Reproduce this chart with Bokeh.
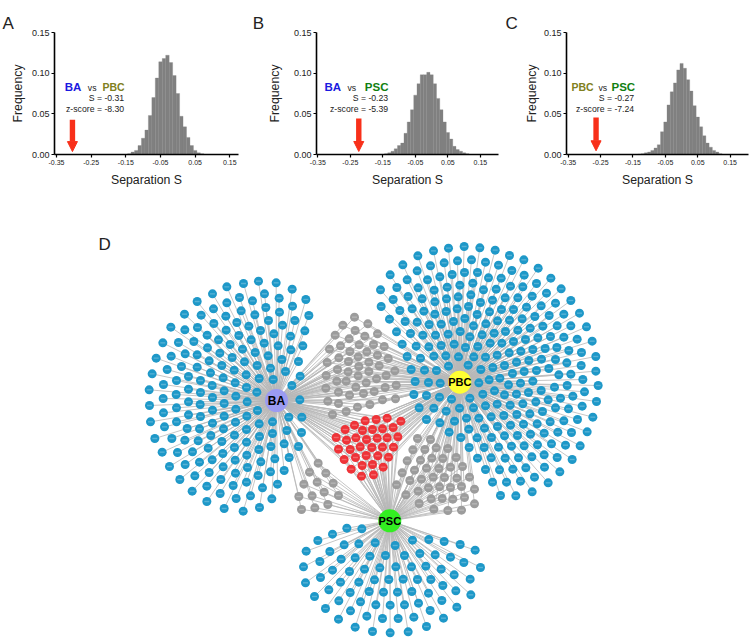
from bokeh.plotting import figure
from bokeh.layouts import column, row
from bokeh.models import Label, Range1d, FixedTicker, Arrow, NormalHead, Title
from bokeh.embed import file_html
from bokeh.resources import INLINE

# ---------- histogram data ----------
ab_centers = [-0.14,-0.13,-0.12,-0.11,-0.10,-0.09,-0.08,-0.07,-0.06,-0.05,-0.04,-0.03,-0.02,-0.01,0.0,0.01,0.02,0.03,0.04,0.05,0.06,0.07]
ab_freq = [.001,.003,.005,.011,.020,.030,.048,.070,.094,.114,.118,.122,.113,.097,.075,.047,.034,.021,.011,.005,.002,.001]
bc_centers = [-0.14,-0.13,-0.12,-0.11,-0.10,-0.09,-0.08,-0.07,-0.06,-0.05,-0.04,-0.03,-0.02,-0.01,0.0,0.01,0.02,0.03,0.04,0.05,0.06,0.07,0.08,0.09,0.10,0.11]
bc_freq = [.001,.002,.004,.007,.011,.014,.026,.040,.055,.073,.087,.098,.098,.101,.098,.087,.069,.055,.040,.027,.019,.010,.006,.004,.002,.001]
cc_centers = [-0.13,-0.12,-0.11,-0.10,-0.09,-0.08,-0.07,-0.06,-0.05,-0.04,-0.03,-0.02,-0.01,0.0,0.01,0.02,0.03,0.04,0.05,0.06,0.07,0.08,0.09,0.10,0.11,0.12]
cc_freq = [.0005,.001,.002,.003,.005,.008,.012,.028,.040,.061,.077,.088,.104,.112,.106,.092,.078,.060,.046,.034,.023,.014,.009,.005,.003,.001]
x_ticks = [-0.35,-0.25,-0.15,-0.05,0.05,0.15]
x_tick_labels = ["-0.35","-0.25","-0.15","-0.05","0.05","0.15"]
y_ticks = [0.0,0.05,0.10,0.15]
y_tick_labels = ["0.00","0.05","0.10","0.15"]
observed_s = [-0.304,-0.224,-0.264]

ba_crop = (130,270)
ba_nodes = [(384,32),(437,37),(339,39),(289,49),(485,56),(246,70),(402,70),(327,81),(446,83),(526,87),(366,91),(200,93),(289,97),
(486,107),(406,111),(249,115),(332,121),(447,125),(162,131),(212,134),(373,133),(535,135),(286,137),(414,150),(493,150),(319,156),(250,159),(456,164),(355,167),(121,170),(201,171),(163,178),(287,179),(390,180),(523,181),
(430,190),(230,194),(480,197),(325,195),(264,208),(362,208),(190,213),(97,217),(144,216),(401,218),(299,222),(517,226),(443,226),(231,232),(336,236),(481,238),
(374,246),(268,248),(164,250),(200,253),(122,257),(413,256),(305,261),(77,263),(236,271),(454,267),(342,274),(504,273),(274,285),(380,285),(153,288),(200,290),
(420,293),(110,297),(311,299),(465,303),(65,310),(240,307),(347,313),(509,317),(174,318),(278,322),(386,324),(428,327),(138,330),(210,330),(314,337),(99,342),(245,345),(484,345),
(348,351),(174,356),(56,358),(210,366),(379,365),(281,361),(137,372),(316,377),(246,381),(98,384),(508,388),(174,394),(350,394),(281,399),(209,402),(57,405),(138,412),(246,419),
(316,416),(381,420),(99,427),(174,433),(210,438),(349,437),(281,437),(475,440),(514,440),(138,454),(60,454),(426,454),(246,458),(315,455),(386,460),(102,469),(170,474),(207,475),(279,475),(348,477),
(469,480),(426,489),(513,486),(241,495),(312,494),(387,498),(73,504),(124,504),(163,509),(203,511),(348,515),(274,513),(461,520),(421,528),(504,528),(233,533),(312,531),(385,537),(95,545),(141,546),(186,544),
(277,549),(349,554),(433,565),(476,561),(245,568),(314,569),(391,574),(164,582),(207,575),(117,588),(278,589),(351,591),(236,606),(461,600),(420,604),(315,608),(383,615),(193,616),
(148,627),(271,627),(348,635),(229,647),(308,645),(441,641),(396,652),(185,662),(269,669),(360,676),(424,685),(317,684),(229,693),(281,714),(387,711),(338,722)]

pbc_crop = (370,235)
pbc_nodes = [(281,33),(234,38),(328,37),(189,46),(374,44),(417,60),(142,61),(460,73),(97,88),(221,82),(261,76),(303,73),(345,80),(384,89),(180,91),(503,98),
(424,105),(140,106),(282,111),(321,111),(245,117),(208,124),(461,119),(59,118),(541,128),(354,127),(392,128),(171,133),(110,133),
(498,144),(307,143),(268,149),(230,155),(420,152),(457,154),(79,156),(143,157),(572,160),(339,163),(191,164),(30,163),(377,161),
(528,173),(113,183),(301,178),(263,184),(228,190),(485,182),(68,192),(155,190),(404,187),(442,187),(601,195),(366,194),(193,199),(330,201),
(555,203),(512,211),(32,213),(294,213),(125,220),(260,220),(468,215),(88,225),(429,222),(393,222),(160,227),(227,228),(357,229),(627,233),(193,236),(320,237),(580,236),(536,240),
(57,251),(455,250),(283,249),(417,254),(493,243),(381,256),(104,258),(249,258),(140,260),(212,266),(346,265),(648,274),(176,267),(560,271),(601,271),(517,272),(309,271),(479,278),
(442,284),(405,288),(78,289),(120,294),(269,288),(233,296),(371,293),(335,298),(195,299),(157,299),(298,304),(580,305),(540,303),(502,307),(665,317),(465,312),(620,311),
(429,318),(251,326),(95,326),(394,323),(212,330),(359,323),(137,332),(175,334),(322,333),(285,336),(559,336),(524,339),(487,342),(451,347),
(633,351),(595,345),(416,352),(380,359),(345,365),(110,363),(310,364),(150,368),(190,362),(226,361),(264,364),(676,363),(513,371),(475,375),(555,372),
(438,380),(589,382),(632,390),(402,390),(367,396),(234,392),(293,389),(122,402),(162,404),(198,405),(331,402),(535,399),(498,405),(676,407),(461,408),
(426,414),(565,418),(601,416),(637,432),(388,428),(356,433),(325,442),(134,438),(174,441),(209,443),(487,437),(450,443),(414,448),
(590,450),(683,450),(552,455),(512,465),(642,469),(372,466),(130,477),(168,480),(207,485),(337,476),(402,478),(474,471),(438,476),(607,482),
(570,488),(243,491),(298,488),(533,493),(496,499),(457,505),(678,498),(380,506),(419,509),(345,511),(146,517),(190,518),(267,518),(309,517),(635,512),(594,520),(555,517),(516,528),(227,527),
(478,535),(439,537),(400,540),(362,544),(325,548),(288,548),(168,552),(252,557),(208,562),(667,545),(621,552),(580,556),(539,559),(500,565),(459,566),(420,569),(381,573),
(342,578),(295,581),(236,590),(603,591),(650,589),(562,590),(521,593),(480,596),(441,600),(402,601),(363,606),(320,607),(271,606),
(543,625),(501,628),(461,631),(423,632),(384,635),(341,636),(585,629),(629,631),(296,636),(521,658),(484,664),(444,667),(404,668),(362,667),(605,672),(560,666),(321,668),
(522,695),(466,697),(427,701),(387,703),(345,702),(568,709),(492,725),(533,742),(450,737),(408,740),(366,740),(485,769),(436,781),(390,780)]

psc_crop = (290,505)
psc_nodes = [(169,68),(214,70),(126,86),(366,104),(415,102),(461,108),(509,117),(82,105),(254,112),(161,118),(205,115),(314,120),(554,134),(47,137),(118,138),(388,144),(434,148),(88,168),(152,161),(194,157),(238,152),(285,150),(342,150),(480,155),(520,171),
(39,184),(126,194),(177,198),(222,191),(268,187),(316,184),(363,184),(406,182),(452,191),(570,186),(90,216),(491,208),(45,232),(150,230),(205,230),(252,223),(295,222),(338,221),(381,222),(421,222),(539,221),(457,240),
(115,253),(179,261),(236,258),(279,260),(321,260),(364,258),(414,263),(496,256),(72,273),(541,268),(454,285),(145,286),(210,289),(256,298),(299,299),(342,298),(384,293),(499,305),(105,309),(180,316),(419,315),
(229,332),(276,339),(323,339),(370,335),(459,338),(144,341),(194,365),(408,363),(246,378),(299,382),(353,379)]

shared_crop = (280,310)
ba_pbc_nodes = [(222,20),(187,44),(262,40),(224,60),(164,74),(291,70),(206,85),(253,77),(180,106),(236,103),(279,102),(147,116),(311,108),(208,123),(259,124),(175,142),(233,139),(291,134),(323,144),(140,156),(204,153),(265,155),(296,166),(171,177),(235,168),(343,181),(203,184),(265,183),(137,195),(317,195),(233,196),(169,212),(288,205),(257,217),(197,212),(226,230),(347,224),(136,233),(314,231),(174,245),(207,254),(281,243),(249,249),(142,272),(306,268),(345,265),(174,279),(268,282),(231,290),(197,303),(156,312)]
all_three_nodes = [(254,331),(287,327),(320,323),(361,332),(222,344),(194,357),(246,360),(276,357),(306,355),(338,351),(167,381),(198,389),(226,382),(258,387),(290,383),(320,382),(352,379),(174,416),(209,417),(239,409),(274,411),(306,410),(339,410),(191,447),(225,441),(257,435),(292,436),(324,440),(212,476),(245,465),(276,462),(308,470),(243,497),(279,493)]
ba_psc_nodes = [(113,458),(87,485),(136,488),(70,521),(110,515),(158,518),(131,545),(55,558),(95,556),(174,555),(142,582),(103,592),(63,597)]
pbc_psc_nodes = [(411,384),(450,387),(397,418),(433,417),(467,412),(502,414),(380,451),(420,449),(454,443),(487,444),(527,441),(365,487),(402,479),(438,473),(475,474),(510,470),(546,468),(388,510),(423,506),(458,500),(492,501),(529,503),(567,500),(348,523),(413,542),(444,532),(477,529),(510,531),(543,528),(582,536),(376,553),(452,565),(485,564),(517,566),(552,561),(416,579),(582,580),(460,596),(502,600),(543,599)]
hub_names = ["BA","PBC","PSC"]
hub_x = [276,459.3,389.3]
hub_y = [400,381.7,520.3]
hub_colors = ["#9b9bf2","#ffff33","#33ee22"]

FONT = "Liberation Sans"
BLUE, OLIVE, GREEN = "#1a1ae0", "#808020", "#107f10"

def panel(centers, freq, left, right, top, origin, letter, letter_x, names, s_text, z_text, s_right, vs_x, xlab_center, ylab_standoff, arrow_x, arrow_top, arrow_tip, fig_left):
    W, H, bottom = 250, 200, 154
    x0, sc = origin
    fx = lambda a: -0.35 + (a - x0) / sc
    fy = lambda a: (154 - a) * 0.15 / (154 - top)
    p = figure(width=W, height=H, output_backend="svg", toolbar_location=None,
               x_range=Range1d(fx(left), fx(right)), y_range=Range1d(0, 0.15),
               min_border_left=int(left - fig_left), min_border_right=int(fig_left + W - right),
               min_border_top=int(top), min_border_bottom=H - bottom, outline_line_color=None)
    p.grid.visible = False
    p.vbar(x=centers, top=freq, width=0.01, fill_color="#808080", line_color="#808080", line_width=0.3)
    for ax, ticks, labels, size in ((p.xaxis[0], x_ticks, x_tick_labels, "7px"), (p.yaxis[0], y_ticks, y_tick_labels, "9px")):
        ax.ticker = FixedTicker(ticks=ticks)
        ax.major_label_overrides = dict(zip(ticks, labels))
        ax.major_label_text_font = FONT
        ax.major_label_text_font_size = size
        ax.major_label_text_color = "#222222"
        ax.axis_line_width = 1.6
        ax.axis_line_color = "#000000"
        ax.major_tick_line_width = 1.2
        ax.major_tick_out = 3
        ax.major_tick_in = 0
        ax.minor_tick_line_color = None
        ax.major_label_standoff = 2
    p.yaxis[0].axis_label = "Frequency"
    p.yaxis[0].axis_label_text_font = FONT
    p.yaxis[0].axis_label_text_font_size = "12.3px"
    p.yaxis[0].axis_label_text_font_style = "normal"
    p.yaxis[0].axis_label_text_color = "#222222"
    p.yaxis[0].axis_label_standoff = ylab_standoff
    p.add_layout(Title(text="Separation S", text_font=FONT, text_font_size="12.3px", text_font_style="normal",
                       text_color="#222222", align="center", offset=xlab_center - (left + right) / 2, standoff=6), "below")
    p.add_layout(Title(text=letter, text_font=FONT, text_font_size="17px", text_font_style="normal",
                       text_color="#222222", align="left", offset=letter_x - left, standoff=0), "above")
    def lab(a, b, text, size, color="#222222", style="normal", align="left"):
        p.add_layout(Label(x=a - fig_left, y=b, x_units="canvas", y_units="canvas", text=text, text_font=FONT,
                           text_font_size=size, text_color=color, text_font_style=style, text_align=align,
                           text_baseline="middle"))
    p.add_layout(Arrow(end=NormalHead(size=10, fill_color="#f8301a", line_color="#f8301a"),
                       x_start=arrow_x, y_start=fy(arrow_top), x_end=arrow_x, y_end=fy(arrow_tip),
                       line_color="#f8301a", line_width=5.4))
    for (name, col, size), a in zip(names, vs_x):
        lab(a, 86.5, name, size, color=col, style="bold")
    lab(vs_x[2], 87, "vs", "8.7px")
    lab(s_right, 97.7, s_text, "8.7px", align="right")
    lab(s_right, 108, z_text, "8.7px", align="right")
    return p

pa = panel(ab_centers, ab_freq, 54, 238, 28, (56, 346.7), "A", 2,
    [("BA", BLUE, "11.5px"), ("PBC", OLIVE, "10.5px")], "S = -0.31", "z-score = -8.30", 123.7,
    (64.3, 102, 87.3), 153, 4, observed_s[0], 118, 151, 0)
pb = panel(bc_centers, bc_freq, 316.7, 497.7, 32.7, (318, 323.4), "B", 253,
    [("BA", BLUE, "11.5px"), ("PSC", GREEN, "11.5px")], "S = -0.23", "z-score = -5.39", 387.7,
    (324, 364.3, 347), 411, 9, observed_s[1], 118.3, 151, 250)
pc = panel(cc_centers, cc_freq, 566, 747.7, 32.7, (567.7, 323.4), "C", 505,
    [("PBC", OLIVE, "10.5px"), ("PSC", GREEN, "11.5px")], "S = -0.27", "z-score = -7.24", 633.7,
    (571, 611, 598), 668.3, 2, observed_s[2], 117.3, 150.3, 500)

# ---------- network panel ----------
def absolute(nodes, crop):
    return [crop[0] + a / 3 for a, _ in nodes], [crop[1] + b / 3 for _, b in nodes]

pd = figure(width=750, height=439, output_backend="svg", toolbar_location=None,
            x_range=Range1d(0, 750), y_range=Range1d(639, 200),
            min_border=0, outline_line_color=None)
pd.axis.visible = False
pd.grid.visible = False

groups = [(ba_nodes, ba_crop, [0], "#1e98c8"), (pbc_nodes, pbc_crop, [1], "#1e98c8"), (psc_nodes, psc_crop, [2], "#1e98c8"),
          (ba_pbc_nodes, shared_crop, [0, 1], "#9c9c9c"), (ba_psc_nodes, shared_crop, [0, 2], "#9c9c9c"),
          (pbc_psc_nodes, shared_crop, [1, 2], "#9c9c9c"), (all_three_nodes, shared_crop, [0, 1, 2], "#ee3338")]
for nodes, crop, hubs, color in groups:
    xs, ys = absolute(nodes, crop)
    for h in hubs:
        pd.segment(x0=[hub_x[h]] * len(xs), y0=[hub_y[h]] * len(xs), x1=xs, y1=ys, line_color="#b8b8b8", line_width=0.8)
for nodes, crop, hubs, color in groups:
    xs, ys = absolute(nodes, crop)
    pd.scatter(xs, ys, size=9, fill_color=color, line_color=None)
    pd.scatter(xs, ys, marker="dash", size=5, line_color="white", line_alpha=0.25, line_width=1.4)
pd.scatter(hub_x, hub_y, size=23, fill_color=hub_colors, line_color=None)
for n, a, b, size in zip(hub_names, hub_x, hub_y, ("12px", "11px", "11px")):
    pd.add_layout(Label(x=a, y=b, text=n, text_font=FONT, text_font_size=size, text_font_style="bold",
                        text_color="#000000", text_align="center", text_baseline="middle"))
pd.add_layout(Label(x=98, y=244, text="D", text_font=FONT, text_font_size="17px", text_color="#222222",
                    text_baseline="middle"))

layout = column(row(pa, pb, pc, spacing=0), pd, spacing=0)
open("out.html", "w").write(file_html(layout, INLINE))
